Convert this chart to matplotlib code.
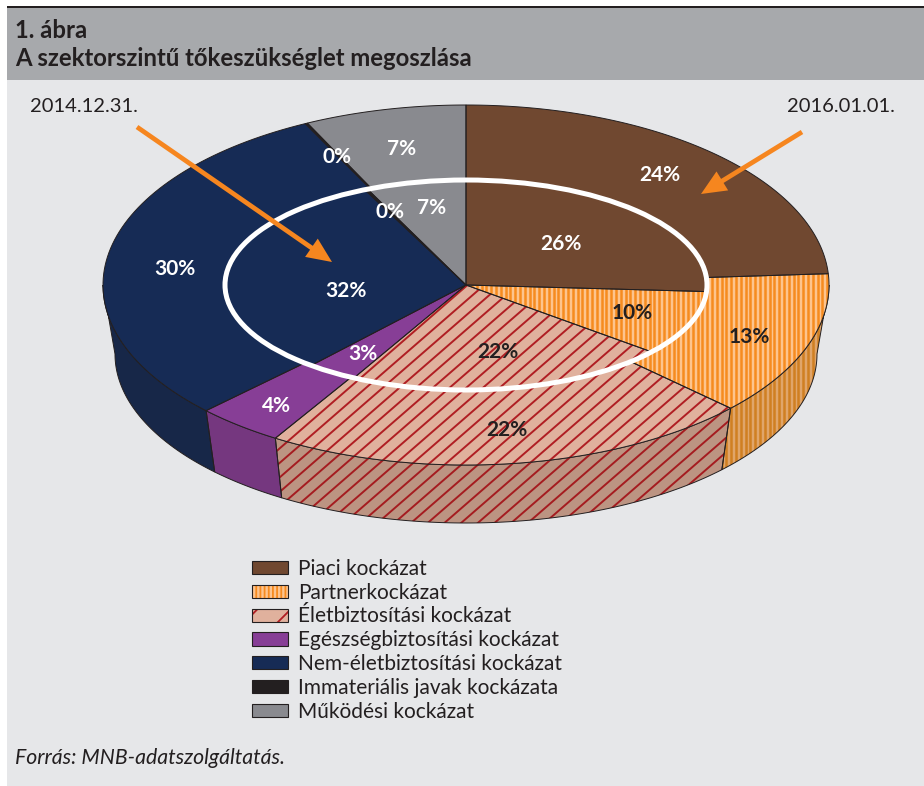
# Capital requirement split - two nested 3D-looking pies

import numpy as np
import matplotlib
matplotlib.use('Agg')
import matplotlib.pyplot as plt
from matplotlib.patches import Polygon, Rectangle, Patch, Ellipse, FancyArrowPatch
from matplotlib.collections import LineCollection

plt.rcParams['font.family'] = ['Lato', 'DejaVu Sans']
plt.rcParams['hatch.linewidth'] = 1.3

# values, unrounded estimates
categories = ['Piaci kockázat', 'Partnerkockázat', 'Életbiztosítási kockázat',
              'Egészségbiztosítási kockázat', 'Nem-életbiztosítási kockázat',
              'Immateriális javak kockázata', 'Működési kockázat']
values_2016 = [24.0, 13.0, 21.8, 3.9, 30.0, 0.1, 7.2]
values_2014 = [26.0, 10.0, 21.7, 3.4, 32.0, 0.2, 6.7]

# label positions in pixels
label_xy_2016 = [(660, 175), (749, 337), (507, 430), (276, 406), (175, 269), (337, 157), (402, 149)]
label_xy_2014 = [(561, 244), (632, 313), (498, 352), (363, 354), (346, 291), (390, 212), (432, 208)]
label_colors = ['white', '#231F20', '#231F20', 'white', 'white', 'white', 'white']

faces = ['#704830', '#FDC48E', '#E0B19D', '#873E96', '#162B55', '#231F20', '#898A8F']
wall_faces = ['#5E3C28', '#E0A56A', '#BC9482', '#75377F', '#172748', '#231F20', '#77787C']
stripes = [None, 'v', 'd', None, None, None, None]
stripe_colors = {'v': '#F68B1F', 'd': '#B01E23'}
wall_stripe_colors = {'v': '#D07F22', 'd': '#A51C20'}

CX, CY = 466, 285
OUTER = (363, 180)
INNER = (241, 105)
BASE_C = (466, 354)
BASE = (351, 169)
DARK = '#231F20'


def arc(cx, cy, r, a, b):
    t = np.radians(np.linspace(a, b, 80))
    return np.column_stack([cx + r[0] * np.sin(t), cy - r[1] * np.cos(t)])


def add_stripes(ax, poly, kind, color, z):
    if kind == 'v':
        segs = [[(x, 90), (x, 540)] for x in np.arange(400, 860, 4.8)]
        lw = 1.8
    else:
        # diagonal lines rising to the right
        segs = [[(x, 560), (x + 560 * 1.15, 0)] for x in np.arange(-500, 900, 16.7)]
        lw = 1.4
    lc = LineCollection(segs, colors=color, linewidths=lw, zorder=z)
    ax.add_collection(lc)
    lc.set_clip_path(poly)


def draw_poly(ax, pts, face, kind, stripe_map, z):
    poly = Polygon(pts, closed=True, facecolor=face, edgecolor='none', zorder=z)
    ax.add_patch(poly)
    if kind:
        add_stripes(ax, poly, kind, stripe_map[kind], z + 0.1)
    ax.add_patch(Polygon(pts, closed=True, facecolor='none', edgecolor=DARK, linewidth=0.7, zorder=z + 0.2))


def draw_pie(ax, values, radii, z):
    edges = np.concatenate([[0], np.cumsum(values)]) * 3.6
    for i in range(len(values)):
        pts = np.vstack([[(CX, CY)], arc(CX, CY, radii, edges[i], edges[i + 1])])
        draw_poly(ax, pts, faces[i], stripes[i], stripe_colors, z)


def draw_wall(ax, values, z):
    edges = np.concatenate([[0], np.cumsum(values)]) * 3.6
    for i in range(len(values)):
        a, b = max(edges[i], 90), min(edges[i + 1], 270)
        if b <= a:
            continue
        top = arc(CX, CY, OUTER, a, b)
        bottom = arc(BASE_C[0], BASE_C[1], BASE, a, b)
        draw_poly(ax, np.vstack([top, bottom[::-1]]), wall_faces[i], stripes[i], wall_stripe_colors, z)


fig = plt.figure(figsize=(9.24, 7.86), dpi=100, facecolor='white')
ax = fig.add_axes([0, 0, 1, 1])
ax.set_xlim(0, 924)
ax.set_ylim(786, 0)
ax.axis('off')

# panel
ax.add_patch(Rectangle((7, 8), 917, 778, facecolor='#E6E7E9', edgecolor='none', zorder=0))
ax.add_patch(Rectangle((7, 8), 917, 72, facecolor='#A7A9AC', edgecolor='none', zorder=1))
ax.add_patch(Rectangle((7, 6), 917, 2.4, facecolor=DARK, edgecolor='none', zorder=2))
ax.text(15, 30, '1. ábra', fontsize=17.2, fontweight='bold', color=DARK, va='center', zorder=3)
ax.text(15, 58, 'A szektorszintű tőkeszükséglet megoszlása', fontsize=17.2, fontweight='bold',
        color=DARK, va='center', zorder=3)

draw_wall(ax, values_2016, 3)
draw_pie(ax, values_2016, OUTER, 4)
draw_pie(ax, values_2014, INNER, 5)
ax.add_patch(Ellipse((CX, CY), INNER[0] * 2, INNER[1] * 2, facecolor='none', edgecolor='white',
                     linewidth=3.6, zorder=6))

for vals, xy in ((values_2016, label_xy_2016), (values_2014, label_xy_2014)):
    for v, (x, y), c in zip(vals, xy, label_colors):
        ax.text(x, y, f'{v:.0f}%', fontsize=15, fontweight='bold', color=c, ha='center', va='center', zorder=8)

# dates and arrows
ax.text(30, 107, '2014.12.31.', fontsize=14.5, color=DARK, va='center', zorder=8)
ax.text(895, 107, '2016.01.01.', fontsize=14.5, color=DARK, va='center', ha='right', zorder=8)
for start, end in (((137, 127), (332, 262)), ((802, 132), (701, 194))):
    ax.add_patch(FancyArrowPatch(start, end, arrowstyle='simple,head_length=18,head_width=16,tail_width=3.4',
                                 mutation_scale=1, shrinkA=0, shrinkB=0, facecolor='#F6861F',
                                 edgecolor='none', linewidth=0, zorder=7))

# legend
handles = []
for i in range(len(categories)):
    if stripes[i] == 'v':
        h = (Patch(facecolor=faces[i], edgecolor=stripe_colors['v'], hatch='||||', linewidth=0),
             Patch(facecolor='none', edgecolor=DARK, linewidth=0.8))
    elif stripes[i] == 'd':
        h = (Patch(facecolor=faces[i], edgecolor=stripe_colors['d'], hatch='/', linewidth=0),
             Patch(facecolor='none', edgecolor=DARK, linewidth=0.8))
    else:
        h = Patch(facecolor=faces[i], edgecolor=DARK, linewidth=0.8)
    handles.append(h)
leg = ax.legend(handles, categories, loc='upper left', bbox_to_anchor=(252 / 924, 1 - 559 / 786),
                bbox_transform=ax.transAxes, frameon=False, fontsize=15, labelspacing=0.18,
                handlelength=1.74, handleheight=0.6, handletextpad=0.45, borderaxespad=0, borderpad=0,
                labelcolor=DARK)
leg.set_zorder(8)

ax.text(15, 758, 'Forrás: MNB-adatszolgáltatás.', fontsize=15.3, fontstyle='italic', color=DARK,
        va='center', zorder=8)

fig.savefig('out.png', dpi=100)
